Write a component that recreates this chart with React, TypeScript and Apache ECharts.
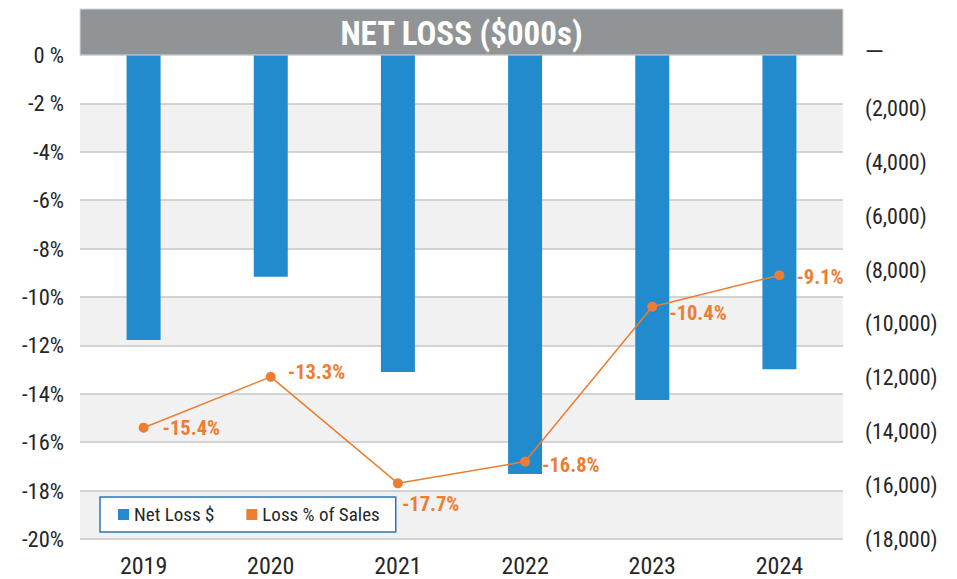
import React, { useEffect, useRef } from "react";
import * as echarts from "echarts";

const years = ["2019", "2020", "2021", "2022", "2023", "2024"];
const netLoss = [-10600, -8250, -11790, -15580, -12830, -11690];
const lossPct = [-15.4, -13.3, -17.7, -16.8, -10.4, -9.1];
const pctMin = -20;
const pctMax = 0;
const pctStep = 2;
const usdMin = -18000;
const usdMax = 0;
const usdStep = 2000;
const titleText = "NET LOSS ($000s)";
const seriesNames = ["Net Loss $", "Loss % of Sales"];

const FONT = "'Roboto Condensed', 'Liberation Sans Narrow', 'DejaVu Sans Condensed', Roboto, sans-serif";
const BLUE = "#218BCD";
const ORANGE = "#ED7D31";
const TXT = "#262626";

const labelOffsets: number[][] = [[2, 0], [0, -5], [-13, 21], [0, 3], [0, 6], [0, 2]];

export default function App() {
  const ref = useRef<HTMLDivElement>(null);
  useEffect(() => {
    document.body.style.margin = "0";
    const chart = echarts.init(ref.current!, null, { renderer: "svg" });
    const gridLeft = 80;
    const gridRight = 114;
    const gridTop = 55;
    const gridBottom = 40;
    chart.setOption({
      animation: false,
      backgroundColor: "#fff",
      textStyle: { fontFamily: FONT },
      grid: { left: gridLeft, right: gridRight, top: gridTop, bottom: gridBottom },
      graphic: [
        {
          type: "rect",
          shape: { x: gridLeft, y: 9, width: 957 - gridLeft - gridRight, height: 46 },
          style: { fill: "#919496", stroke: "#d6d6d6", lineWidth: 1 },
          z: 10,
        },
        {
          type: "text",
          x: gridLeft + (957 - gridLeft - gridRight) / 2,
          y: 33,
          z: 11,
          style: {
            text: titleText,
            fill: "#fff",
            font: `bold 33px ${FONT}`,
            align: "center",
            verticalAlign: "middle",
          },
        },
      ],
      legend: {
        left: 100,
        top: 497,
        icon: "rect",
        itemWidth: 11,
        itemHeight: 11,
        itemGap: 32,
        padding: [8, 16, 8, 18],
        backgroundColor: "#fff",
        borderColor: "#2E75B6",
        borderWidth: 1.5,
        borderRadius: 0,
        data: seriesNames,
        textStyle: { fontSize: 19, color: TXT, fontFamily: FONT },
        z: 12,
      },
      xAxis: {
        type: "category",
        data: years,
        axisLine: { show: false },
        axisTick: { show: false },
        axisLabel: { fontSize: 24, lineHeight: 24, color: TXT, margin: 15, fontFamily: FONT },
      },
      yAxis: [
        {
          type: "value",
          min: pctMin,
          max: pctMax,
          interval: pctStep,
          position: "left",
          axisLine: { show: false },
          axisTick: { show: false },
          axisLabel: {
            fontSize: 22.5,
            color: TXT,
            margin: 16,
            fontFamily: FONT,
            formatter: (v: number) => (v === 0 ? "0 %" : v === -2 ? "-2 %" : `${v}%`),
          },
          splitLine: { show: true, lineStyle: { color: "#c6c6c6", width: 1.5 } },
          splitArea: { show: true, areaStyle: { color: ["#F0F1F0", "#ffffff"] } },
        },
        {
          type: "value",
          min: usdMin,
          max: usdMax,
          interval: usdStep,
          position: "right",
          axisLine: { show: false },
          axisTick: { show: false },
          splitLine: { show: false },
          axisLabel: {
            fontSize: 22,
            color: TXT,
            margin: 22,
            fontFamily: FONT,
            formatter: (v: number) =>
              v === 0 ? "{d|—}" : `(${Math.abs(v).toLocaleString("en-US")})`,
            rich: {
              d: { fontFamily: "Roboto", fontSize: 24, color: TXT, padding: [0, 0, 6, 0] },
            },
          },
        },
      ],
      series: [
        {
          name: seriesNames[0],
          type: "bar",
          yAxisIndex: 1,
          data: netLoss,
          barWidth: 34,
          itemStyle: { color: BLUE },
          z: 2,
        },
        {
          name: seriesNames[1],
          type: "line",
          yAxisIndex: 0,
          data: lossPct.map((v, i) => ({
            value: v,
            label: { offset: labelOffsets[i] },
          })),
          symbol: "circle",
          symbolSize: 10,
          lineStyle: { color: ORANGE, width: 1.5 },
          itemStyle: { color: ORANGE },
          label: {
            show: true,
            position: "right",
            distance: 12,
            color: ORANGE,
            fontWeight: "bold",
            fontSize: 20.5,
            fontFamily: FONT,
            formatter: (p: any) => `${p.value.toFixed(1)}%`,
          },
          z: 5,
        },
      ],
    });
    return () => chart.dispose();
  }, []);
  return <div ref={ref} style={{ width: 957, height: 579 }} />;
}
